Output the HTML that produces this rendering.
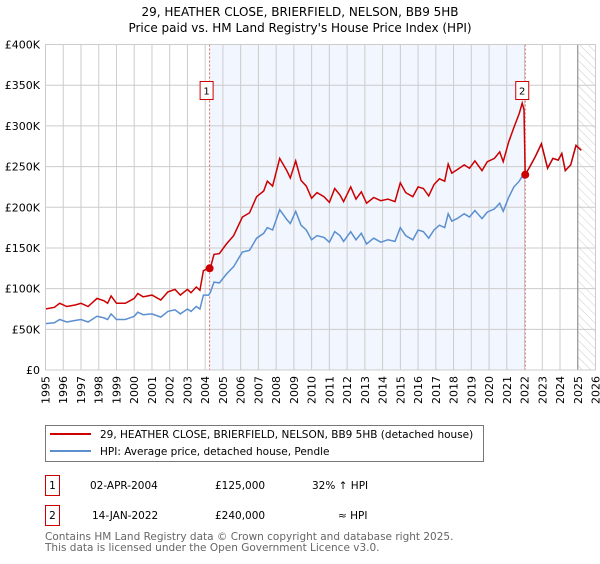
<!DOCTYPE html>
<html><head><meta charset="utf-8"><style>
body{margin:0;background:#fff;width:600px;height:560px;overflow:hidden;font-family:"DejaVu Sans","Liberation Sans",sans-serif}
svg text{font-family:"DejaVu Sans","Liberation Sans",sans-serif}
</style></head><body>
<svg id="chart" width="600" height="560" viewBox="0 0 600 560">
<defs><pattern id="hatch" width="6" height="6" patternUnits="userSpaceOnUse" patternTransform="rotate(-45)"><line x1="0" y1="0" x2="0" y2="6" stroke="#ccc" stroke-width="1"/></pattern></defs>
<text x="300" y="16" text-anchor="middle" font-size="12">29, HEATHER CLOSE, BRIERFIELD, NELSON, BB9 5HB</text>
<text x="300" y="32" text-anchor="middle" font-size="12">Price paid vs. HM Land Registry's House Price Index (HPI)</text>
<g id="plot"></g>
<rect x="45.5" y="425.5" width="438" height="36" fill="#fff" stroke="#777"/>
<line x1="50" y1="434" x2="91" y2="434" stroke="#cc0000" stroke-width="2"/>
<text x="100" y="438" font-size="10.5">29, HEATHER CLOSE, BRIERFIELD, NELSON, BB9 5HB (detached house)</text>
<line x1="50" y1="451" x2="91" y2="451" stroke="#5b8fd0" stroke-width="2"/>
<text x="100" y="455" font-size="10.5">HPI: Average price, detached house, Pendle</text>
<g font-size="10.5">
<rect x="45.5" y="475.5" width="14" height="20" fill="#fff" stroke="#cc0000"/>
<text x="52.5" y="489" text-anchor="middle">1</text>
<text x="90" y="489">02-APR-2004</text>
<text x="215" y="489">£125,000</text>
<text x="312" y="489">32% ↑ HPI</text>
</g>
<g font-size="10.5">
<rect x="45.5" y="505.5" width="14" height="20" fill="#fff" stroke="#cc0000"/>
<text x="52.5" y="519" text-anchor="middle">2</text>
<text x="92" y="519">14-JAN-2022</text>
<text x="215" y="519">£240,000</text>
<text x="338" y="519">≈ HPI</text>
</g>
<text x="45" y="540" font-size="10.5" fill="#666">Contains HM Land Registry data © Crown copyright and database right 2025.</text>
<text x="45" y="551" font-size="10.5" fill="#666">This data is licensed under the Open Government Licence v3.0.</text>
</svg>
<script>
const dates=[1995.0,1995.5,1995.8,1996.2,1996.7,1997.0,1997.4,1997.9,1998.3,1998.5,1998.7,1999.0,1999.5,2000.0,2000.2,2000.5,2001.0,2001.5,2001.9,2002.3,2002.6,2003.0,2003.2,2003.5,2003.7,2003.9,2004.2,2004.3,2004.5,2004.8,2005.2,2005.6,2006.1,2006.5,2006.9,2007.3,2007.5,2007.8,2008.2,2008.6,2008.8,2009.1,2009.4,2009.7,2010.0,2010.3,2010.7,2011.0,2011.3,2011.6,2011.8,2012.2,2012.5,2012.8,2013.1,2013.5,2013.9,2014.3,2014.7,2015.0,2015.3,2015.7,2016.0,2016.3,2016.6,2016.9,2017.2,2017.5,2017.7,2017.9,2018.2,2018.6,2018.9,2019.2,2019.6,2019.9,2020.3,2020.6,2020.8,2021.1,2021.4,2021.7,2021.87,2021.97,2022.04,2022.3,2022.6,2022.95,2023.3,2023.6,2023.9,2024.1,2024.3,2024.6,2024.9,2025.2];
const hpiValues=[57,58,62,59,61,62,59,66,64,62,69,62,62,66,71,68,69,65,72,74,69,75,72,78,75,92,92,96,108,107,118,127,145,147,162,168,175,172,197,185,180,195,178,172,160,165,163,157,170,165,158,170,160,168,155,162,157,160,158,175,165,160,172,170,162,172,178,175,192,183,186,192,188,196,186,194,198,205,195,212,225,232,238,236,240,250,262,278,248,260,258,266,245,252,276,270];
const priceValues=[75,77,82,78,80,82,78,88,85,82,91,82,82,88,94,90,92,86,96,99,92,99,95,102,98,122,125,126,142,143,155,165,188,193,213,220,232,226,260,245,236,257,233,226,211,218,213,206,223,215,207,225,210,219,205,212,208,210,207,230,218,213,225,223,214,228,235,232,253,242,246,252,248,257,245,256,260,268,256,280,298,315,328,320,240,250,262,278,248,260,258,266,245,252,276,270];
const yTicks=[0,50,100,150,200,250,300,350,400];
const yTickLabels=["£0","£50K","£100K","£150K","£200K","£250K","£300K","£350K","£400K"];
const years=[1995,1996,1997,1998,1999,2000,2001,2002,2003,2004,2005,2006,2007,2008,2009,2010,2011,2012,2013,2014,2015,2016,2017,2018,2019,2020,2021,2022,2023,2024,2025,2026];
const sales=[{label:"1",date:2004.25,value:125},{label:"2",date:2022.04,value:240}];
const X0=45.5,X1=595.5,Y0=370,Y1=44.5;
const x=d=>X0+(d-1995)/31*(X1-X0);
const y=v=>Y0-v/400*(Y0-Y1);
const NS="http://www.w3.org/2000/svg";
const g=document.getElementById('plot');
function mk(t,a){const e=document.createElementNS(NS,t);for(const k in a)e.setAttribute(k,a[k]);g.appendChild(e);return e;}
let e;
e=mk('rect',{x:x(sales[0].date),y:Y1,width:x(sales[1].date)-x(sales[0].date),height:Y0-Y1,fill:'#f2f6fe'});


e=mk('rect',{x:x(2025.0),y:Y1,width:X1-x(2025.0),height:Y0-Y1,fill:'url(#hatch)'});


years.forEach(yr=>{
 e=mk('line',{x1:x(yr),x2:x(yr),y1:Y1,y2:Y0,stroke:'#ccc','stroke-width':1});
 
 
 e=mk('text',{transform:`translate(${x(yr)+4},${Y0+6}) rotate(-90)`,'text-anchor':'end','font-size':'11'});
 e.textContent=yr;
 
 
});
yTicks.forEach((v,i)=>{
 e=mk('line',{x1:X0,x2:X1,y1:y(v),y2:y(v),stroke:'#ccc','stroke-width':1});
 
 
 e=mk('text',{x:40,y:y(v)+4,'text-anchor':'end','font-size':'11'});
 e.textContent=yTickLabels[i];
 
 
});
e=mk('line',{x1:x(2025.0),x2:x(2025.0),y1:Y1,y2:Y0,stroke:'#888','stroke-width':1});


sales.forEach(s=>{
 e=mk('line',{x1:x(s.date),x2:x(s.date),y1:Y1,y2:Y0,stroke:'#e06666','stroke-width':1,'stroke-dasharray':'2,2'});
 
 
});
const pts=a=>a.map((v,i)=>x(dates[i]).toFixed(1)+','+y(v).toFixed(1)).join(' ');
e=mk('polyline',{points:pts(hpiValues),fill:'none',stroke:'#5b8fd0','stroke-width':1.5});


e=mk('polyline',{points:pts(priceValues),fill:'none',stroke:'#cc0000','stroke-width':1.5});


sales.forEach(s=>{
 e=mk('circle',{cx:x(s.date),cy:y(s.value),r:4,fill:'#cc0000'});
 
 
 e=mk('rect',{x:x(s.date)-9.5,y:81.5,width:13,height:18,fill:'#fff',stroke:'#cc0000'});
 
 
 e=mk('text',{x:x(s.date)-3,y:94.5,'text-anchor':'middle','font-size':'10'});
 e.textContent=s.label;
 
 
});
e=mk('rect',{x:X0,y:Y1,width:X1-X0,height:Y0-Y1,fill:'none',stroke:'#ccc'});


</script>
</body></html>
